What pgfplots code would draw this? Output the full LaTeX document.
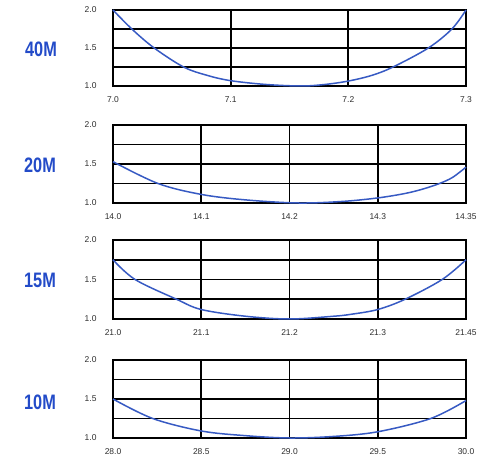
\documentclass[border=0pt]{standalone}
\usepackage{fontspec}
\setmainfont{Liberation Sans}
\usepackage{pgfplots}
\pgfplotsset{compat=1.18}
\definecolor{swrblue}{RGB}{55,90,195}
\definecolor{lblblue}{RGB}{35,75,200}
\definecolor{tickgray}{RGB}{45,45,45}
\pgfplotsset{
  swr/.style={
    scale only axis, width=353bp, anchor=south west,
    ymin=1, ymax=2, ytick={1,1.5,2}, yticklabels={1.0,1.5,2.0},
    minor ytick={1.25,1.75},
    grid=both,
    major grid style={black, line width=1.9bp},
    minor grid style={black, line width=1.9bp},
    axis line style={black, line width=2bp},
    tick style={draw=none},
    major tick length=0pt, minor tick length=0pt,
    /pgf/number format/assume math mode=true,
    ticklabel style={font=\fontsize{8.5}{9}\selectfont, text=tickgray},
    yticklabel style={xshift=-13bp},
    xticklabel style={yshift=-7bp},
    clip=false,
  },
  crv/.style={swrblue, line width=1.5bp, smooth, no markers, tension=0.55}
}
\begin{document}
\begin{tikzpicture}
\useasboundingbox (0,0) rectangle (477bp,460bp);
% 40M
\begin{axis}[swr, at={(113bp,374bp)}, height=76bp,
  xmin=0, xmax=3, xtick={0,1,2,3}, xticklabels={7.0,7.1,7.2,7.3}]
\addplot[crv] coordinates {(0,2.0) (0.16,1.75) (0.35,1.5) (0.6,1.25) (0.8,1.14) (1,1.07) (1.3,1.02) (1.6,1.0) (1.8,1.02) (2,1.065) (2.2,1.14) (2.38,1.25) (2.68,1.5) (2.88,1.75) (3,2.0)};
\end{axis}
% 20M
\begin{axis}[swr, at={(113bp,257bp)}, height=78bp,
  xmin=0, xmax=4, xtick={0,1,2,3,4}, xticklabels={14.0,14.1,14.2,14.3,14.35}]
\addplot[crv] coordinates {(0,1.53) (0.51,1.25) (1,1.11) (1.5,1.04) (2.1,1.0) (2.6,1.02) (3,1.065) (3.3,1.12) (3.5,1.175) (3.7,1.25) (3.85,1.33) (4,1.46)};
\end{axis}
% 15M
\begin{axis}[swr, at={(113bp,141bp)}, height=79bp,
  xmin=0, xmax=4, xtick={0,1,2,3,4}, xticklabels={21.0,21.1,21.2,21.3,21.45}]
\addplot[crv] coordinates {(0,1.75) (0.25,1.5) (0.72,1.25) (1,1.12) (1.5,1.035) (2,1.0) (2.5,1.035) (2.7,1.06) (3,1.12) (3.31,1.25) (3.73,1.5) (4,1.75)};
\end{axis}
% 10M
\begin{axis}[swr, at={(113bp,22bp)}, height=78bp,
  xmin=0, xmax=4, xtick={0,1,2,3,4}, xticklabels={28.0,28.5,29.0,29.5,30.0}]
\addplot[crv] coordinates {(0,1.5) (0.45,1.25) (1,1.09) (1.5,1.03) (2,1.0) (2.5,1.02) (3,1.08) (3.6,1.25) (4,1.48)};
\end{axis}
\begin{scope}[every node/.style={font=\bfseries\fontsize{21}{21}\selectfont, text=lblblue, xscale=0.78, inner sep=0pt}]
\node at (41bp,411bp) {40M};
\node at (40bp,295bp) {20M};
\node at (40bp,180bp) {15M};
\node at (40bp,58bp) {10M};
\end{scope}
\end{tikzpicture}
\end{document}
